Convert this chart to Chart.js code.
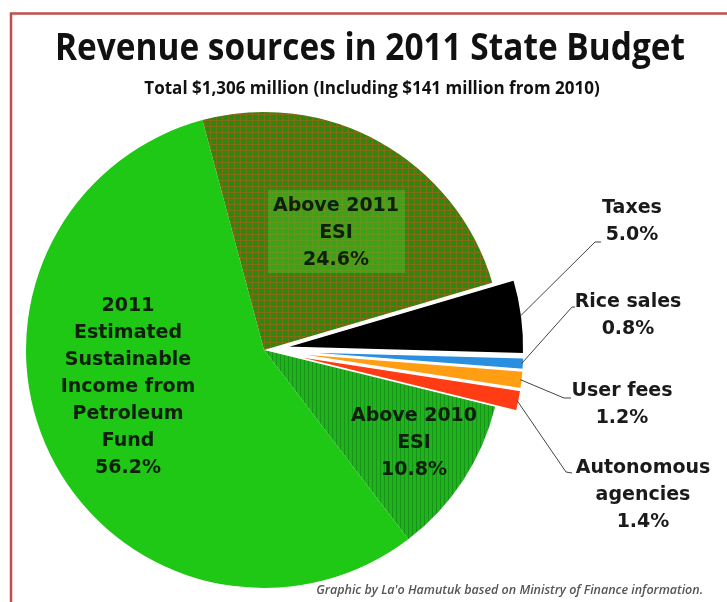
<!DOCTYPE html>
<html>
<head>
<meta charset="utf-8">
<script src="https://cdn.jsdelivr.net/npm/chart.js@4/dist/chart.umd.min.js"></script>
<style>
  html, body { margin: 0; padding: 0; background: #fff; }
  #budgetChart { display: block; }
</style>
</head>
<body>
<canvas id="budgetChart" width="727" height="602"></canvas>
<script>
// Chart text
const TITLE = "Revenue sources in 2011 State Budget";
const SUBTITLE = "Total $1,306 million (Including $141 million from 2010)";
const CREDIT = "Graphic by La'o Hamutuk based on Ministry of Finance information.";

// Revenue sources, clockwise from the top
const sources = [
  "Above 2011 ESI",
  "Taxes",
  "Rice sales",
  "User fees",
  "Autonomous agencies",
  "Above 2010 ESI",
  "2011 Estimated Sustainable Income from Petroleum Fund",
];
const shares = [24.6, 5.0, 0.8, 1.2, 1.4, 10.8, 56.2];
const labelLines = [
  ["Above 2011", "ESI"],
  ["Taxes"],
  ["Rice sales"],
  ["User fees"],
  ["Autonomous", "agencies"],
  ["Above 2010", "ESI"],
  ["2011", "Estimated", "Sustainable", "Income from", "Petroleum", "Fund"],
];

// Slices pulled out of the pie
const EXPLODED = new Set(["Taxes", "Rice sales", "User fees", "Autonomous agencies"]);
const EXPLODE_BY = 22;

const canvas = document.getElementById("budgetChart");
const ctx = canvas.getContext("2d");

// Fill patterns
const makePattern = (size, base, paint) => {
  const tile = document.createElement("canvas");
  tile.width = tile.height = size;
  const g = tile.getContext("2d");
  g.fillStyle = base;
  g.fillRect(0, 0, size, size);
  paint(g, size);
  return ctx.createPattern(tile, "repeat");
};

const gridPattern = makePattern(6, "#2a8a10", (g, s) => {
  g.fillStyle = "rgba(170, 95, 25, 0.7)";
  g.fillRect(0, 0, s, 1);
  g.fillRect(0, 1, 1, s - 1);
});

const stripePattern = makePattern(4, "#20b41c", (g, s) => {
  g.fillStyle = "#17931a";
  g.fillRect(0, 0, 1, s);
});

const SLICE_COLORS = [
  gridPattern,
  "#000000",
  "#2b8fe0",
  "#ff9e12",
  "#ff3c14",
  stripePattern,
  "#1ec814",
];

// Annotation layout
const INNER_LABELS = {
  0: { dx: 72, dy: -117, box: { x: 4, y: -160, w: 137, h: 83 } },
  5: { dx: 150, dy: 93 },
  6: { dx: -136, dy: 37 },
};
const OUTER_LABELS = {
  1: { x: 632, y: 208, elbow: [595, 242], stub: [601, 242] },
  2: { x: 628, y: 302, elbow: [572, 307], stub: [575, 307] },
  3: { x: 622, y: 391, elbow: [564, 398], stub: [571, 398] },
  4: { x: 643, y: 468, elbow: [566, 472], stub: [572, 473] },
};
const LABEL_FONT = "bold 19px 'DejaVu Sans', Verdana, sans-serif";
const LINE_GAP = 27;

const pctText = (i) => shares[i].toFixed(1) + "%";

// Draw exploded slices shifted along their mid angle
const explodePlugin = {
  id: "explode",
  beforeDatasetDraw(chart, args) {
    const c = chart.ctx;
    args.meta.data.forEach((arc, i) => {
      const shift = EXPLODED.has(sources[i]) ? EXPLODE_BY : 0;
      const mid = (arc.startAngle + arc.endAngle) / 2;
      c.save();
      c.translate(Math.cos(mid) * shift, Math.sin(mid) * shift);
      arc.draw(c, chart.chartArea);
      c.restore();
    });
    return false;
  },
};

const decorPlugin = {
  id: "decor",
  beforeDraw(chart) {
    const c = chart.ctx;
    c.save();
    c.fillStyle = "#fff";
    c.fillRect(0, 0, chart.width, chart.height);
    c.strokeStyle = "#c0504d";
    c.lineWidth = 2.5;
    c.strokeRect(11, 13.5, chart.width + 20, chart.height + 20);
    c.restore();
  },
  afterDraw(chart) {
    const c = chart.ctx;
    const arcs = chart.getDatasetMeta(0).data;
    c.save();

    // Title block
    c.textAlign = "center";
    c.textBaseline = "alphabetic";
    c.fillStyle = "#111";
    c.font = "bold 38px 'Open Sans', sans-serif";
    c.fillText(TITLE, 370, 60, 630);
    c.font = "bold 17px 'Open Sans', sans-serif";
    c.fillText(SUBTITLE, 372, 94, 530);

    // Labels inside the pie
    Object.entries(INNER_LABELS).forEach(([k, pos]) => {
      const i = Number(k);
      const arc = arcs[i];
      if (pos.box) {
        c.fillStyle = "rgba(70, 190, 35, 0.5)";
        c.fillRect(arc.x + pos.box.x, arc.y + pos.box.y, pos.box.w, pos.box.h);
      }
      const lines = [...labelLines[i], pctText(i)];
      const top = arc.y + pos.dy - ((lines.length - 1) * LINE_GAP) / 2;
      c.font = LABEL_FONT;
      c.textBaseline = "middle";
      c.fillStyle = "#0e1f0c";
      lines.forEach((t, n) => c.fillText(t, arc.x + pos.dx, top + n * LINE_GAP));
    });

    // Labels outside with leader lines
    Object.entries(OUTER_LABELS).forEach(([k, pos]) => {
      const i = Number(k);
      const arc = arcs[i];
      const mid = (arc.startAngle + arc.endAngle) / 2;
      const reach = arc.outerRadius + EXPLODE_BY - 2;
      c.beginPath();
      c.moveTo(arc.x + Math.cos(mid) * reach, arc.y + Math.sin(mid) * reach);
      c.lineTo(pos.elbow[0], pos.elbow[1]);
      c.lineTo(pos.stub[0], pos.stub[1]);
      c.strokeStyle = "#444";
      c.lineWidth = 1;
      c.stroke();

      const lines = [...labelLines[i], pctText(i)];
      c.font = LABEL_FONT;
      c.textBaseline = "middle";
      c.fillStyle = "#1a1a1a";
      lines.forEach((t, n) => c.fillText(t, pos.x, pos.y + n * LINE_GAP));
    });

    // Credit line
    c.font = "italic 600 12.5px 'Open Sans', sans-serif";
    c.textAlign = "right";
    c.textBaseline = "alphabetic";
    c.fillStyle = "#555";
    c.fillText(CREDIT, 703, 594, 404);
    c.restore();
  },
};

new Chart(ctx, {
  type: "pie",
  data: {
    labels: sources,
    datasets: [
      {
        data: shares,
        backgroundColor: SLICE_COLORS,
        borderColor: "#ffffff",
        borderWidth: sources.map((s) => (EXPLODED.has(s) ? 1.5 : 0)),
        radius: 238,
        clip: false,
      },
    ],
  },
  options: {
    responsive: false,
    animation: false,
    devicePixelRatio: 1,
    events: [],
    rotation: -15,
    layout: { padding: { left: 26, right: 225, top: 100, bottom: 2 } },
    plugins: {
      legend: { display: false },
      tooltip: { enabled: false },
      title: { display: false },
    },
  },
  plugins: [decorPlugin, explodePlugin],
});
</script>
</body>
</html>
